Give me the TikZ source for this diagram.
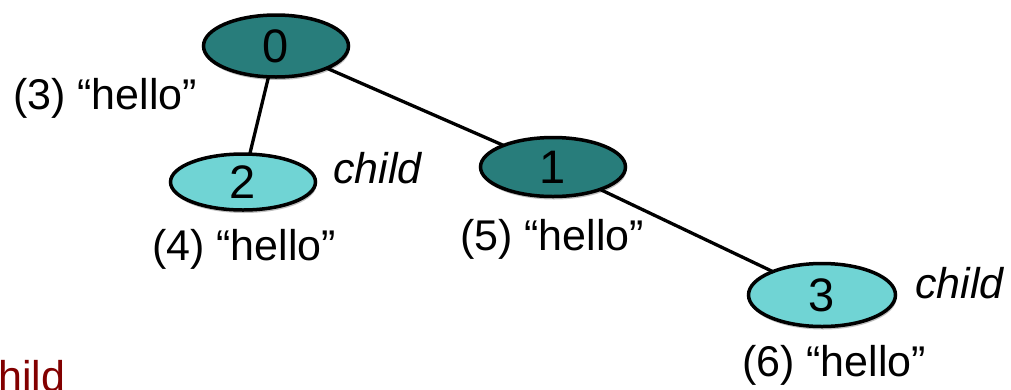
\documentclass[tikz,border=0pt]{standalone}
\usepackage{fontspec}
\setmainfont{Liberation Sans}
\usetikzlibrary{shapes.geometric,shadows}
\definecolor{darkteal}{RGB}{40,125,123}
\definecolor{lightteal}{RGB}{112,212,212}
\definecolor{maroon}{RGB}{130,0,0}
\begin{document}
\begin{tikzpicture}[x=1pt,y=-1pt,
  treenode/.style={ellipse, draw=black, line width=3.5pt, inner sep=0pt,
    minimum width=145pt, font=\fontsize{47}{54}\selectfont,
    drop shadow={shadow xshift=1pt, shadow yshift=-3pt, opacity=0.25, fill=black}},
  darknode/.style={treenode, fill=darkteal},
  lightnode/.style={treenode, fill=lightteal},
  edge/.style={line width=3.3pt, black},
  lbl/.style={anchor=base west, inner sep=0pt, font=\fontsize{43}{50}\selectfont},
  childlbl/.style={lbl, font=\fontsize{43}{50}\selectfont\itshape}]
\useasboundingbox (0,0) rectangle (1011,389);
\clip (0,0) rectangle (1011,389);
\fill[white] (0,0) rectangle (1011,389);
% edges first (behind nodes)
\coordinate (c0) at (276,46);
\coordinate (c2) at (243,182);
\coordinate (c1) at (553,167);
\coordinate (c3) at (822,295);
\draw[edge] (c0) -- (c2);
\draw[edge] (c0) -- (c1);
\draw[edge] (c1) -- (c3);
% nodes
\node[darknode, minimum height=62pt] (n0) at (c0) {0};
\node[lightnode, minimum height=56pt] (n2) at (c2) {2};
\node[darknode, minimum height=59pt] (n1) at (c1) {1};
\node[lightnode, minimum height=63pt, minimum width=147pt] (n3) at (c3) {3};
% labels
\node[lbl] (l3) at (13,109) {(3) “hello”};
\node[lbl] (l4) at (152,260) {(4) “hello”};
\node[lbl] (l5) at (460,250) {(5) “hello”};
\node[lbl] (l6) at (742,376) {(6) “hello”};
\node[childlbl] (ch2) at (333,183) {child};
\node[childlbl] (ch3) at (915,298) {child};
\node[lbl, text=maroon] (redchild) at (-23.5,391) {child};
\end{tikzpicture}
\end{document}
